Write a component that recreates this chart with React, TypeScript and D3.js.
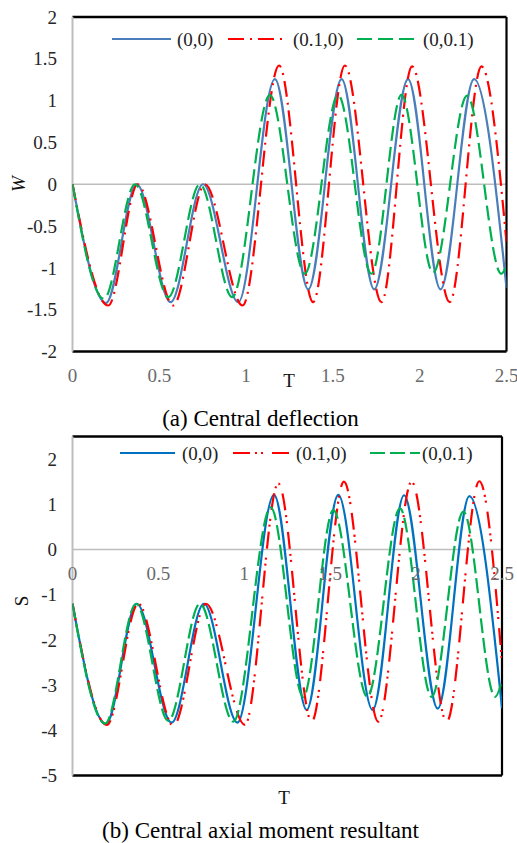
import React from "react";
import * as d3 from "d3";

// ---- Tick labels ----
const wTicks = [-2, -1.5, -1, -0.5, 0, 0.5, 1, 1.5, 2];
const sTicks = [-5, -4, -3, -2, -1, 0, 1, 2];
const tTicks = [0, 0.5, 1, 1.5, 2, 2.5];
const seriesNames = ["(0,0)", "(0.1,0)", "(0,0.1)"];

// ---- (a) Central deflection W: extremes ----
const wT00 = [0, 0.193, 0.37, 0.565, 0.752, 0.955, 1.166, 1.358, 1.55, 1.738, 1.933, 2.12, 2.313, 2.5];
const wV00 = [0, -1.42, 0, -1.41, 0, -1.41, 1.257, -1.257, 1.257, -1.257, 1.257, -1.257, 1.257, -1.24];
const wT10 = [0, 0.206, 0.376, 0.58, 0.763, 0.98, 1.19, 1.386, 1.569, 1.78, 1.956, 2.173, 2.356, 2.5];
const wV10 = [0, -1.45, 0, -1.45, 0, -1.45, 1.42, -1.41, 1.42, -1.41, 1.41, -1.41, 1.41, -0.69];
const wT01 = [0, 0.181, 0.36, 0.552, 0.734, 0.92, 1.137, 1.338, 1.53, 1.722, 1.895, 2.077, 2.273, 2.47, 2.5];
const wV01 = [0, -1.37, 0, -1.35, 0, -1.35, 1.066, -1.07, 1.066, -1.07, 1.07, -1.06, 1.06, -1.07, -0.97];

// ---- (b) Central axial moment resultant S ----
const sT00 = [0, 0.195, 0.374, 0.577, 0.765, 0.96, 1.173, 1.363, 1.547, 1.747, 1.93, 2.126, 2.31, 2.5];
const sV00 = [-1.2, -3.86, -1.2, -3.83, -1.2, -3.83, 1.21, -3.55, 1.21, -3.55, 1.2, -3.52, 1.18, -3.51];
const sT10 = [0, 0.2, 0.383, 0.587, 0.777, 1.004, 1.198, 1.392, 1.58, 1.78, 1.974, 2.178, 2.368, 2.5];
const sV10 = [-1.2, -3.88, -1.2, -3.9, -1.2, -3.88, 1.46, -3.81, 1.5, -3.81, 1.5, -3.81, 1.51, -2.5];
const sT01 = [0, 0.19, 0.37, 0.558, 0.742, 0.936, 1.154, 1.343, 1.518, 1.716, 1.906, 2.09, 2.275, 2.46, 2.5];
const sV01 = [-1.2, -3.85, -1.2, -3.79, -1.2, -3.81, 0.93, -3.26, 0.87, -3.26, 0.91, -3.26, 0.84, -3.26, -2.9];

const FONT = "'Liberation Serif', 'Times New Roman', serif";

type Style = { color: string; dash: string | null };

function zip(t: number[], v: number[]): [number, number][] {
  return t.map((tt, i) => [tt, v[i]]);
}

function Panel(props: {
  x: d3.ScaleLinear<number, number>;
  y: d3.ScaleLinear<number, number>;
  yTicks: number[];
  series: [number, number][][];
  styles: Style[];
  legendY: number;
  legendLines: [number, number][];
  legendTextX: number[];
  xLabelY: number;
  tLabel: [number, number];
  yLabel: { text: string; x: number; y: number; italic: boolean };
  caption: { text: string; y: number };
  fs: number;
  id: string;
}) {
  const { x, y, yTicks, series, styles, fs, id } = props;
  const [x0, x1] = x.range();
  const [yb, yt] = y.range();
  const line = d3
    .line<[number, number]>()
    .x((d) => x(d[0]))
    .y((d) => y(d[1]))
    .curve(d3.curveMonotoneX);
  return (
    <g>
      <defs>
        <clipPath id={id}>
          <rect x={x0} y={yt} width={x1 - x0} height={yb - yt} />
        </clipPath>
      </defs>
      {/* zero line */}
      <line x1={x0} x2={x1} y1={y(0)} y2={y(0)} stroke="#bdbdbd" strokeWidth={1.6} />
      {/* frame */}
      <line x1={x0} x2={x1} y1={yt} y2={yt} stroke="#000" strokeWidth={2.4} />
      <line x1={x0} x2={x1} y1={yb} y2={yb} stroke="#000" strokeWidth={2.4} />
      <line x1={x1} x2={x1} y1={yt} y2={yb} stroke="#000" strokeWidth={2.2} />
      <line x1={x0} x2={x0} y1={yt} y2={yb} stroke="#bdbdbd" strokeWidth={2} />
      {/* series */}
      <g clipPath={`url(#${id})`}>
        {series.map((s, i) => (
          <path
            key={i}
            d={line(s) || ""}
            fill="none"
            stroke={styles[i].color}
            strokeWidth={2.2}
            strokeDasharray={styles[i].dash || undefined}
          />
        ))}
      </g>
      {/* y tick labels */}
      {yTicks.map((t) => (
        <text
          key={t}
          x={57}
          y={y(t)}
          dy="0.35em"
          textAnchor="end"
          fontFamily={FONT}
          fontSize={fs}
          fill="#262626"
        >
          {t}
        </text>
      ))}
      {/* x tick labels */}
      {tTicks.map((t) => (
        <text
          key={t}
          x={x(t)}
          y={props.xLabelY}
          textAnchor="middle"
          fontFamily={FONT}
          fontSize={fs}
          fill="#6a6a6a"
        >
          {t}
        </text>
      ))}
      <text x={props.tLabel[0]} y={props.tLabel[1]} textAnchor="middle" fontFamily={FONT} fontSize={fs} fill="#111">
        T
      </text>
      <text
        transform={`translate(${props.yLabel.x},${props.yLabel.y}) rotate(-90)`}
        textAnchor="middle"
        dy="0.35em"
        fontFamily={FONT}
        fontSize={fs}
        fontStyle={props.yLabel.italic ? "italic" : "normal"}
        fill="#111"
      >
        {props.yLabel.text}
      </text>
      {/* legend */}
      {seriesNames.map((n, i) => (
        <g key={n}>
          <line
            x1={props.legendLines[i][0]}
            x2={props.legendLines[i][1]}
            y1={props.legendY}
            y2={props.legendY}
            stroke={styles[i].color}
            strokeWidth={2.2}
            strokeDasharray={styles[i].dash || undefined}
          />
          <text
            x={props.legendTextX[i]}
            y={props.legendY}
            dy="0.35em"
            fontFamily={FONT}
            fontSize={fs}
            fill="#222"
          >
            {n}
          </text>
        </g>
      ))}
      <text x={260.5} y={props.caption.y} textAnchor="middle" fontFamily={FONT} fontSize={23} fill="#000">
        {props.caption.text}
      </text>
    </g>
  );
}

export default function App() {
  const xA = d3.scaleLinear().domain([0, 2.5]).range([72.5, 506.5]);
  const yA = d3.scaleLinear().domain([-2, 2]).range([351.5, 17]);
  const xB = d3.scaleLinear().domain([0, 2.5]).range([72.5, 502]);
  const yB = d3.scaleLinear().domain([-5, 2.5]).range([775.5, 436.5]);

  const stylesA: Style[] = [
    { color: "#4a7ebb", dash: null },
    { color: "#ff0000", dash: "16 6 2 6" },
    { color: "#00b050", dash: "15 6" },
  ];
  const stylesB: Style[] = [
    { color: "#0070c0", dash: null },
    { color: "#ff0000", dash: "17 5 2 4 2 9" },
    { color: "#00b050", dash: "15 5" },
  ];

  return (
    <svg
      width={517}
      height={843}
      style={{ position: "absolute", left: 0, top: 0, background: "#fff" }}
    >
      <rect width={517} height={843} fill="#fff" />
      <Panel
        id="clipA"
        x={xA}
        y={yA}
        yTicks={wTicks}
        series={[zip(wT00, wV00), zip(wT10, wV10), zip(wT01, wV01)]}
        styles={stylesA}
        legendY={39}
        legendLines={[
          [112, 171],
          [228, 287],
          [357, 417],
        ]}
        legendTextX={[177, 293, 423]}
        xLabelY={382}
        tLabel={[289, 387]}
        yLabel={{ text: "W", x: 18, y: 184, italic: true }}
        caption={{ text: "(a) Central deflection", y: 426 }}
        fs={19}
      />
      <Panel
        id="clipB"
        x={xB}
        y={yB}
        yTicks={sTicks}
        series={[zip(sT00, sV00), zip(sT10, sV10), zip(sT01, sV01)]}
        styles={stylesB}
        legendY={453}
        legendLines={[
          [120, 175],
          [233, 291],
          [370, 420],
        ]}
        legendTextX={[182, 296, 422]}
        xLabelY={580}
        tLabel={[284, 804]}
        yLabel={{ text: "S", x: 21, y: 601, italic: false }}
        caption={{ text: "(b) Central axial moment resultant", y: 838 }}
        fs={19}
      />
    </svg>
  );
}
